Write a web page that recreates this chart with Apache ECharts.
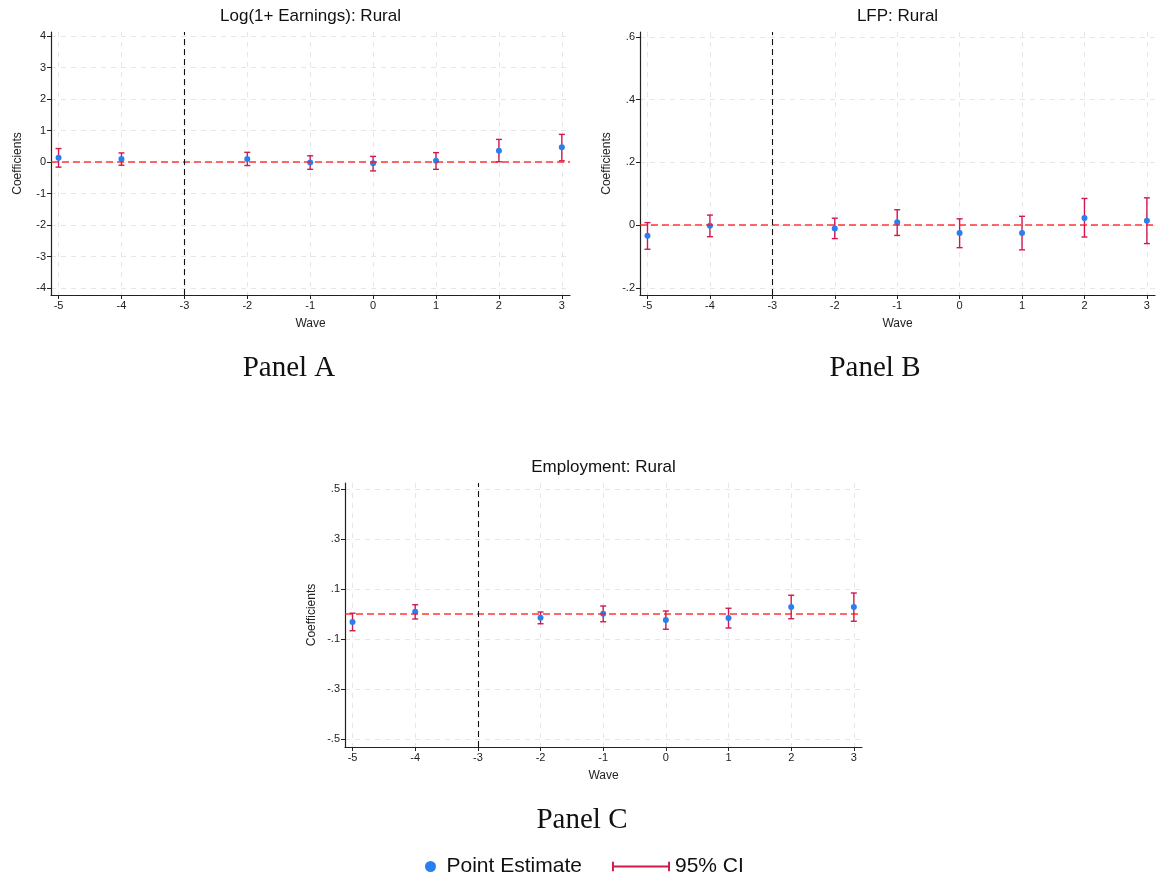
<!DOCTYPE html>
<html>
<head>
<meta charset="utf-8">
<script src="https://cdn.jsdelivr.net/npm/echarts@6/dist/echarts.min.js"></script>
<style>
  html, body { margin: 0; padding: 0; background: #ffffff; }
  #chart { width: 1156px; height: 880px; }
</style>
</head>
<body>
<div id="chart"></div>
<script>
// Event-study waves (wave -3 is the omitted reference period)
const waves = [-5, -4, -2, -1, 0, 1, 2, 3];
const waveTicks = [-5, -4, -3, -2, -1, 0, 1, 2, 3];
const refWave = -3;

// Log(1+ Earnings): Rural
const earnEst = [0.14, 0.10, 0.10, -0.01, -0.04, 0.04, 0.36, 0.47];
const earnLo  = [-0.16, -0.10, -0.11, -0.23, -0.28, -0.23, 0.01, 0.04];
const earnHi  = [0.43, 0.29, 0.31, 0.20, 0.18, 0.30, 0.72, 0.88];
const earnTicks = [-4, -3, -2, -1, 0, 1, 2, 3, 4];

// LFP: Rural
const lfpEst = [-0.034, -0.002, -0.011, 0.009, -0.025, -0.025, 0.023, 0.014];
const lfpLo  = [-0.077, -0.037, -0.043, -0.033, -0.072, -0.079, -0.038, -0.059];
const lfpHi  = [0.008, 0.032, 0.022, 0.049, 0.020, 0.028, 0.085, 0.087];
const lfpTicks = [-0.2, 0, 0.2, 0.4, 0.6];

// Employment: Rural
const empEst = [-0.032, 0.009, -0.015, 0.001, -0.024, -0.016, 0.028, 0.028];
const empLo  = [-0.067, -0.020, -0.039, -0.031, -0.061, -0.056, -0.019, -0.029];
const empHi  = [0.003, 0.037, 0.008, 0.032, 0.012, 0.023, 0.075, 0.084];
const empTicks = [-0.5, -0.3, -0.1, 0.1, 0.3, 0.5];

const POINT_COLOR = '#2a7ff0';
const CI_COLOR = '#d0184f';
const ZERO_COLOR = 'rgba(255,20,20,0.85)';
const GRID_COLOR = '#e6e6e6';
const AXIS_COLOR = '#222222';
const SANS = '"Liberation Sans", Arial, sans-serif';
const SERIF = '"Liberation Serif", "DejaVu Serif", serif';

// Stata-style labels: drop the leading zero (".2", "-.3")
function fmtTick(v) {
  let s = String(+Number(v).toFixed(3));
  return s.replace(/^(-?)0\./, '$1.');
}

function ciItem(params, api) {
  const x = api.value(0);
  const lo = api.coord([x, api.value(1)]);
  const hi = api.coord([x, api.value(2)]);
  const cap = 3;
  const style = { stroke: CI_COLOR, lineWidth: 1.4, fill: null };
  return {
    type: 'group',
    children: [
      { type: 'line', shape: { x1: lo[0], y1: lo[1], x2: hi[0], y2: hi[1] }, style: style },
      { type: 'line', shape: { x1: lo[0] - cap, y1: lo[1], x2: lo[0] + cap, y2: lo[1] }, style: style },
      { type: 'line', shape: { x1: hi[0] - cap, y1: hi[1], x2: hi[0] + cap, y2: hi[1] }, style: style }
    ]
  };
}

// Panel layout: plot box and y range
const panels = [
  { title: 'Log(1+ Earnings): Rural', caption: 'Panel A', est: earnEst, lo: earnLo, hi: earnHi, ticks: earnTicks,
    box: { left: 51, top: 32, width: 519, height: 263 }, yMin: -4.22, yMax: 4.13, captionX: 289, captionY: 354 },
  { title: 'LFP: Rural', caption: 'Panel B', est: lfpEst, lo: lfpLo, hi: lfpHi, ticks: lfpTicks,
    box: { left: 640, top: 32, width: 515, height: 263 }, yMin: -0.223, yMax: 0.616, captionX: 875, captionY: 354 },
  { title: 'Employment: Rural', caption: 'Panel C', est: empEst, lo: empLo, hi: empHi, ticks: empTicks,
    box: { left: 345, top: 483, width: 517, height: 264 }, yMin: -0.532, yMax: 0.524, captionX: 582, captionY: 806 }
];

const grids = [], xAxes = [], yAxes = [], series = [], titles = [];

panels.forEach(function (p, i) {
  grids.push({ left: p.box.left, top: p.box.top, width: p.box.width, height: p.box.height, containLabel: false });

  xAxes.push({
    type: 'value', gridIndex: i, min: -5.12, max: 3.13,
    name: 'Wave', nameLocation: 'middle', nameGap: 23,
    nameTextStyle: { fontFamily: SANS, fontSize: 12, color: '#222' },
    axisLine: { onZero: false, lineStyle: { color: AXIS_COLOR, width: 1.2 } },
    axisTick: { customValues: waveTicks, length: 4, lineStyle: { color: AXIS_COLOR } },
    axisLabel: { customValues: waveTicks, fontFamily: SANS, fontSize: 11, color: '#222', margin: 5,
      formatter: function (v) { return String(v); } },
    splitLine: { show: true, lineStyle: { color: GRID_COLOR, type: [5, 5], width: 1 } }
  });

  yAxes.push({
    type: 'value', gridIndex: i, min: p.yMin, max: p.yMax,
    name: 'Coefficients', nameLocation: 'middle', nameGap: 27, nameRotate: 90,
    nameTextStyle: { fontFamily: SANS, fontSize: 12, color: '#222' },
    axisLine: { show: true, onZero: false, lineStyle: { color: AXIS_COLOR, width: 1.2 } },
    axisTick: { show: true, customValues: p.ticks, length: 4, lineStyle: { color: AXIS_COLOR } },
    axisLabel: { customValues: p.ticks, fontFamily: SANS, fontSize: 11, color: '#222', margin: 5,
      formatter: fmtTick },
    splitLine: { show: true, lineStyle: { color: GRID_COLOR, type: [5, 5], width: 1 } }
  });

  const ciData = waves.map(function (w, k) { return [w, p.lo[k], p.hi[k]]; });
  const ptData = waves.map(function (w, k) { return [w, p.est[k]]; });

  series.push({
    name: '95% CI', type: 'custom', xAxisIndex: i, yAxisIndex: i, z: 3,
    itemStyle: { color: CI_COLOR },
    encode: { x: 0, y: [1, 2] },
    renderItem: ciItem,
    data: ciData,
    markLine: {
      silent: true, symbol: 'none', label: { show: false }, animation: false,
      data: [
        { yAxis: 0, lineStyle: { color: ZERO_COLOR, type: [7, 4], width: 1.5 } },
        { xAxis: refWave, lineStyle: { color: '#111', type: [6, 4], width: 1.1 } }
      ]
    }
  });
  series.push({
    name: 'Point Estimate', type: 'scatter', xAxisIndex: i, yAxisIndex: i, z: 4,
    symbol: 'circle', symbolSize: 6,
    itemStyle: { color: POINT_COLOR, opacity: 1 },
    data: ptData
  });

  titles.push({
    text: p.title, left: p.box.left + p.box.width / 2, top: p.box.top - 24, textAlign: 'center', padding: 0,
    textStyle: { fontFamily: SANS, fontSize: 17, fontWeight: 'normal', color: '#111' }
  });
  titles.push({
    text: p.caption, left: p.captionX, top: p.captionY, textAlign: 'center', padding: 0,
    textStyle: { fontFamily: SERIF, fontSize: 29, fontWeight: 'normal', color: '#111' }
  });
});

const chart = echarts.init(document.getElementById('chart'), null, { renderer: 'canvas' });
chart.setOption({
  animation: false,
  backgroundColor: '#ffffff',
  title: titles,
  grid: grids,
  xAxis: xAxes,
  yAxis: yAxes,
  legend: [
    {
      data: [{ name: 'Point Estimate', icon: 'circle' }],
      left: 425, top: 856, padding: 0, itemWidth: 22, itemHeight: 11,
      selectedMode: false,
      textStyle: { fontFamily: SANS, fontSize: 21, color: '#111' }
    },
    {
      data: [{ name: '95% CI', icon: 'path://M0,0H2V10H0Z M2,4H58V6H2Z M58,0H60V10H58Z' }],
      left: 612, top: 856, padding: 0, itemWidth: 58, itemHeight: 10,
      selectedMode: false,
      textStyle: { fontFamily: SANS, fontSize: 21, color: '#111' }
    }
  ],
  series: series
});
</script>
</body>
</html>
